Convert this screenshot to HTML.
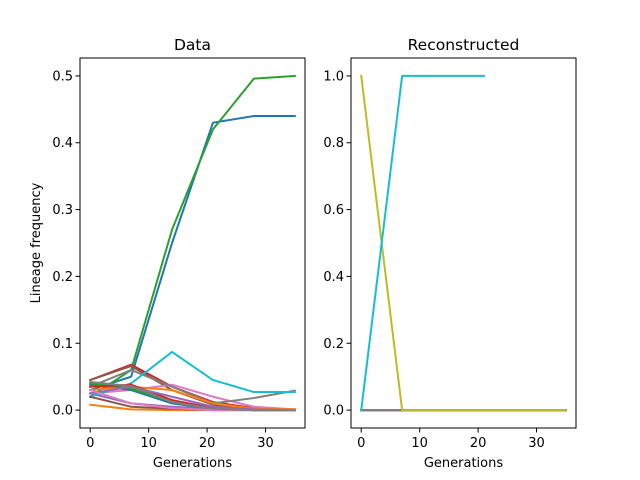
<!DOCTYPE html>
<html><head><meta charset="utf-8"><style>body{margin:0;background:#fff}svg{display:block}text{font-family:"DejaVu Sans","Liberation Sans",sans-serif}</style></head>
<body>
<svg id="c" width="640" height="480" xmlns="http://www.w3.org/2000/svg"></svg>
<script>
const gens=[0,7,14,21,28,35];
const leftSeries=[
 [0.03,0.05,0.25,0.43,0.44,0.44],
 [0.008,0.001,0,0,0,0],
 [0.02,0.06,0.27,0.42,0.496,0.5],
 [0.045,0.068,0.035,0.012,0.003,0.001],
 [0.025,0.01,0.005,0.002,0,0],
 [0.045,0.066,0.03,0.008,0.002,0.001],
 [0.025,0.03,0.038,0.02,0.005,0.001],
 [0.035,0.06,0.035,0.01,0.018,0.029],
 [0.04,0.035,0.01,0.002,0,0],
 [0.02,0.04,0.087,0.045,0.027,0.027],
 [0.038,0.03,0.01,0.002,0,0],
 [0.03,0.035,0.03,0.01,0.002,0.001],
 [0.04,0.032,0.012,0.003,0,0],
 [0.035,0.038,0.015,0.003,0,0],
 [0.025,0.035,0.02,0.005,0.001,0],
 [0.02,0.005,0.002,0,0,0],
 [0.03,0.01,0.003,0,0,0],
 [0.042,0.036,0.012,0.002,0,0]
];
const rightSeries=[
 [0,0,0,0,0,0],[0,0,0,0,0,0],[0,0,0,0,0,0],[0,0,0,0,0,0],
 [0,0,0,0,0,0],[0,0,0,0,0,0],[0,0,0,0,0,0],[0,0,0,0,0,0],
 [1,0,0,0,0,0],
 [0,1,1,1]
];
const xTicks=[0,10,20,30];
const leftYTicks=[0,0.1,0.2,0.3,0.4,0.5];
const rightYTicks=[0,0.2,0.4,0.6,0.8,1.0];
const colors=['#1f77b4','#ff7f0e','#2ca02c','#d62728','#9467bd','#8c564b','#e377c2','#7f7f7f','#bcbd22','#17becf'];
const svg=document.getElementById('c');const NS='http://www.w3.org/2000/svg';
function mk(t,a,p){const e=document.createElementNS(NS,t);for(const k in a)e.setAttribute(k,a[k]);(p||svg).appendChild(e);return e;}
function panel(name,x0,x1,y0,y1,ymin,ymax,yt,series,title,ylabel){
 const g=mk('g',{});
 
 
 const sx=v=>x0+(x1-x0)*(v-(-1.75))/(36.75-(-1.75));
 const sy=v=>y1-(y1-y0)*(v-ymin)/(ymax-ymin);
 series.forEach((s,i)=>{
  const p=mk('polyline',{points:s.map((v,j)=>sx(gens[j])+','+sy(v)).join(' '),fill:'none',stroke:colors[i%10],'stroke-width':2,'stroke-linejoin':'round','stroke-linecap':'square'},g);
  
  
 });
 const r=mk('rect',{x:x0,y:y0,width:x1-x0,height:y1-y0,fill:'none',stroke:'#000','stroke-width':1},g);
 
 xTicks.forEach(t=>{const x=sx(t);mk('line',{x1:x,x2:x,y1:y1,y2:y1+4.5,stroke:'#000'},g);
  const tx=mk('text',{x:x,y:y1+19,'font-size':13,'text-anchor':'middle'},g);tx.textContent=t;
  });
 yt.forEach(t=>{const y=sy(t);mk('line',{x1:x0-4.5,x2:x0,y1:y,y2:y,stroke:'#000'},g);
  const tx=mk('text',{x:x0-7,y:y+4.5,'font-size':13,'text-anchor':'end'},g);tx.textContent=t.toFixed(1);
  });
 const ti=mk('text',{x:(x0+x1)/2,y:y0-8,'font-size':15.5,'text-anchor':'middle'},g);ti.textContent=title;
 
 const xl=mk('text',{x:(x0+x1)/2,y:y1+39,'font-size':13,'text-anchor':'middle'},g);xl.textContent='Generations';
 
 if(ylabel){const yl=mk('text',{x:0,y:0,'font-size':13,'text-anchor':'middle',transform:`translate(40,${(y0+y1)/2}) rotate(-90)`},g);yl.textContent=ylabel;
  }
}
panel('data-panel',80,305,58,428,-0.0268,0.5268,leftYTicks,leftSeries,'Data','Lineage frequency');
panel('reconstructed-panel',351,576,58,428,-0.0536,1.0536,rightYTicks,rightSeries,'Reconstructed',null);
</script>
</body></html>
